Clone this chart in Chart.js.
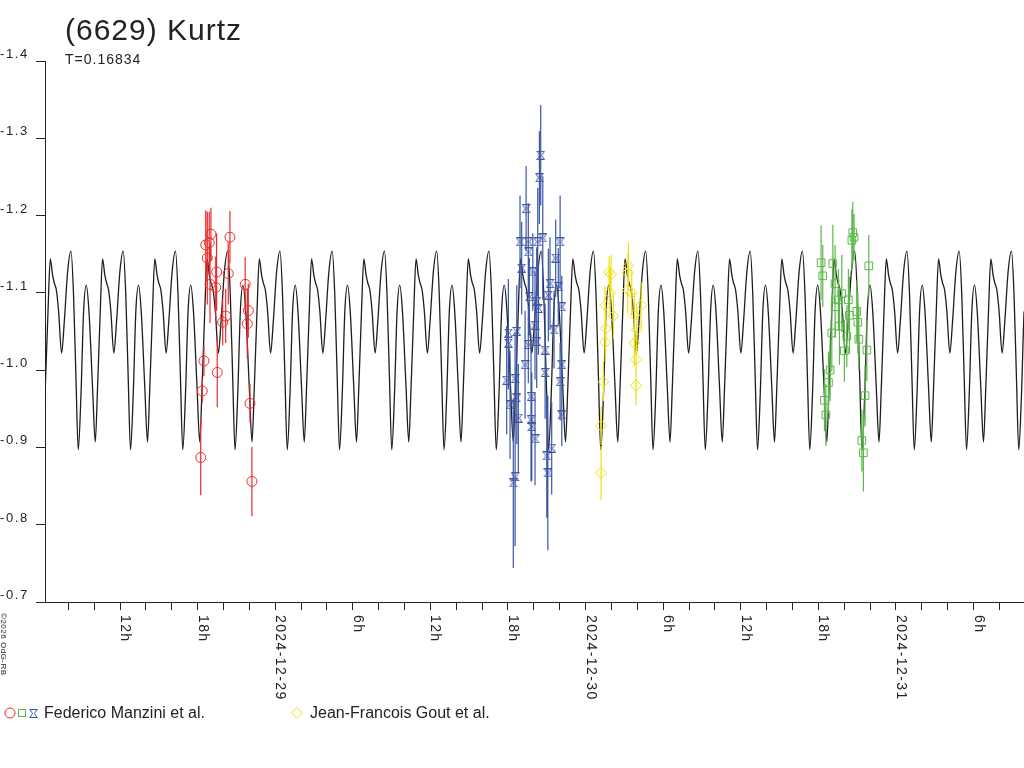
<!DOCTYPE html>
<html>
<head>
<meta charset="utf-8">
<title>(6629) Kurtz</title>
<script src="https://cdn.jsdelivr.net/npm/chart.js@4.4.1/dist/chart.umd.min.js"></script>
<style>
    html, body { margin: 0; padding: 0; background: #fff; overflow: hidden; }
</style>
</head>
<body>
<canvas id="lc" width="1024" height="768"></canvas>
<script>
// x values are hours since 2024-12-29 00:00 UT
const xMin = -17.8;
const xMax = 57.9;
const xTickHours = [-16, -14, -12, -10, -8, -6, -4, -2, 0, 2, 4, 6, 8, 10, 12, 14, 16, 18, 20, 22, 24,
    26, 28, 30, 32, 34, 36, 38, 40, 42, 44, 46, 48, 50, 52, 54, 56];
const xLabelHours = [-12, -6, 0, 6, 12, 18, 24, 30, 36, 42, 48, 54];
const xLabels = ['12h', '18h', '2024-12-29', '6h', '12h', '18h', '2024-12-30', '6h', '12h', '18h', '2024-12-31', '6h'];
const yTicks = [-1.4, -1.3, -1.2, -1.1, -1.0, -0.9, -0.8, -0.7];

// model lightcurve: one period, repeated with T
const period = 0.16834; // days
const epochHour = -17.39;
const modelPhase = [0, 0.044, 0.076, 0.115, 0.159, 0.216, 0.268, 0.331, 0.396, 0.445,
    0.491, 0.535, 0.587, 0.637, 0.688, 0.740, 0.809, 0.860, 0.904, 0.956];
const modelMag = [-1.144, -1.123, -1.113, -1.104, -1.076, -1.022, -1.063, -1.127, -1.154, -1.097,
    -0.990, -0.897, -0.968, -1.076, -1.110, -1.076, -0.977, -0.907, -0.977, -1.076];

// Federico Manzini et al. - session 1 (red)
const redHour = [-5.76, -5.64, -5.51, -5.37, -5.25, -5.10, -4.97, -5.04, -4.60, -4.53,
    -4.48, -4.06, -3.83, -3.63, -3.50, -2.32, -2.16, -2.08, -1.95, -1.80];
const redMag = [-0.887, -0.973, -1.012, -1.162, -1.145, -1.165, -1.176, -1.111, -1.107, -1.127,
    -0.997, -1.062, -1.070, -1.125, -1.172, -1.111, -1.060, -1.077, -0.957, -0.856];
const redErr = [0.049, 0.015, 0.02, 0.045, 0.06, 0.04, 0.034, 0.05, 0.04, 0.05,
    0.045, 0.03, 0.035, 0.04, 0.034, 0.035, 0.045, 0.035, 0.025, 0.045];

// Federico Manzini et al. - session 2 (blue)
const blueHour = [20.53, 20.43, 19.40, 18.93, 19.57, 20.30, 20.69, 22.03, 21.69, 19.57,
    19.92, 19.06, 21.25, 21.89, 19.65, 21.12, 22.16, 20.22, 20.35, 20.09,
    18.68, 18.03, 18.03, 19.57, 20.22, 17.90, 18.55, 20.87, 22.03, 22.16,
    18.68, 19.78, 18.16, 18.80, 19.78, 19.84, 20.09, 22.16, 21.38, 21.00,
    21.08, 18.55, 18.41, 21.56, 20.87, 19.32];
const blueMag = [-1.278, -1.249, -1.209, -1.166, -1.166, -1.166, -1.171, -1.166, -1.145, -1.153,
    -1.127, -1.132, -1.112, -1.108, -1.095, -1.097, -1.082, -1.089, -1.080, -1.058,
    -1.050, -1.048, -1.035, -1.033, -1.037, -0.987, -0.989, -0.997, -0.985, -1.007,
    -0.964, -0.966, -0.955, -0.938, -0.936, -0.927, -0.911, -0.942, -0.899, -0.889,
    -0.867, -0.862, -0.854, -1.052, -1.026, -1.007];
const blueErr = [0.065, 0.06, 0.055, 0.06, 0.05, 0.07, 0.08, 0.06, 0.05, 0.06,
    0.05, 0.06, 0.06, 0.05, 0.05, 0.06, 0.04, 0.07, 0.06, 0.07,
    0.06, 0.07, 0.06, 0.05, 0.06, 0.07, 0.06, 0.06, 0.05, 0.04,
    0.06, 0.08, 0.07, 0.07, 0.08, 0.07, 0.06, 0.04, 0.06, 0.08,
    0.1, 0.09, 0.11, 0.05, 0.06, 0.07];

// Federico Manzini et al. - session 3 (green)
const greenHour = [42.21, 42.34, 43.12, 44.66, 44.59, 44.76, 45.90, 43.29, 43.81, 43.55,
    44.32, 43.29, 44.97, 44.40, 45.05, 43.63, 43.04, 44.20, 45.13, 44.01,
    45.75, 42.91, 42.78, 42.47, 45.61, 42.58, 45.36, 45.48];
const greenMag = [-1.139, -1.122, -1.138, -1.178, -1.168, -1.172, -1.135, -1.112, -1.099, -1.091,
    -1.091, -1.082, -1.076, -1.071, -1.062, -1.057, -1.048, -1.044, -1.040, -1.025,
    -1.026, -1.000, -0.984, -0.961, -0.967, -0.942, -0.909, -0.893];
const greenErr = [0.048, 0.04, 0.05, 0.04, 0.04, 0.03, 0.04, 0.05, 0.05, 0.04,
    0.04, 0.04, 0.04, 0.05, 0.04, 0.05, 0.05, 0.04, 0.04, 0.04,
    0.04, 0.04, 0.04, 0.04, 0.04, 0.04, 0.04, 0.05];

// Jean-Francois Gout et al. (yellow)
const yellowHour = [25.82, 25.97, 27.31, 27.26, 27.26, 27.57, 25.89, 25.51, 26.15, 28.29,
    27.77, 25.56, 25.51, 27.96, 27.77, 27.90, 27.90, 25.38, 25.20, 25.20];
const yellowMag = [-1.127, -1.124, -1.135, -1.126, -1.104, -1.100, -1.100, -1.084, -1.070, -1.084,
    -1.071, -1.054, -1.036, -1.052, -1.035, -1.014, -0.980, -0.985, -0.928, -0.867];
const yellowErr = [0.02, 0.025, 0.03, 0.025, 0.03, 0.03, 0.03, 0.025, 0.03, 0.03,
    0.03, 0.03, 0.025, 0.03, 0.03, 0.03, 0.025, 0.025, 0.025, 0.035];

const RED = '#ee2a2a';
const BLUE = '#3c56a5';
const GREEN = '#5cb84a';
const YELLOW = '#f0e010';
const TEXT = '#222';
const FONT = '"Liberation Sans", Arial, sans-serif';

// build the model points from the one-period profile
let modelPts = [];
const P = period * 24;
for (let k = -1; k <= 20; k++) {
    for (let i = 0; i < modelPhase.length; i++) {
        let h = epochHour + (k + modelPhase[i]) * P;
        if (h > xMin - P && h < xMax + P) {
            modelPts.push({x: h, y: modelMag[i]});
        }
    }
}

function toPoints(hours, mags) {
    return hours.map((h, i) => ({x: h, y: mags[i]}));
}

// vertical error bars as broken line segments
function toBars(hours, mags, errs) {
    let pts = [];
    for (let i = 0; i < hours.length; i++) {
        pts.push({x: hours[i], y: mags[i] - errs[i]});
        pts.push({x: hours[i], y: mags[i] + errs[i]});
        pts.push({x: hours[i], y: null});
    }
    return pts;
}

// the blue marker: a little square with pinched sides
function blueMarker() {
    let c = document.createElement('canvas');
    c.width = 9;
    c.height = 9;
    let g = c.getContext('2d');
    g.strokeStyle = BLUE;
    g.lineWidth = 1;
    g.beginPath();
    g.moveTo(0.5, 0.5); g.lineTo(8.5, 0.5);
    g.moveTo(0.5, 8.5); g.lineTo(8.5, 8.5);
    g.moveTo(1, 0.5); g.lineTo(3.5, 4.5); g.lineTo(1, 8.5);
    g.moveTo(8, 0.5); g.lineTo(5.5, 4.5); g.lineTo(8, 8.5);
    g.stroke();
    return c;
}
const blueImg = blueMarker();

function barSet(hours, mags, errs, color) {
    return {
        type: 'line',
        data: toBars(hours, mags, errs),
        borderColor: color,
        borderWidth: 1.2,
        pointRadius: 0,
        spanGaps: false,
        order: 5
    };
}

function markSet(hours, mags, color, style, radius) {
    return {
        type: 'scatter',
        data: toPoints(hours, mags),
        borderColor: color,
        backgroundColor: 'rgba(0,0,0,0)',
        borderWidth: 1,
        pointStyle: style,
        pointRadius: radius,
        order: 1
    };
}

const textPlugin = {
    id: 'texts',
    afterDraw(chart) {
        const ctx = chart.ctx;
        const xs = chart.scales.x;
        const ys = chart.scales.y;
        ctx.save();
        ctx.fillStyle = TEXT;
        ctx.textBaseline = 'alphabetic';
        ctx.textAlign = 'left';

        // title
        ctx.font = '30px ' + FONT;
        ctx.letterSpacing = '1px';
        ctx.fillText('(6629) Kurtz', 65, 40);
        ctx.font = '14px ' + FONT;
        ctx.letterSpacing = '1px';
        ctx.fillText('T=0.16834', 65, 64);

        // y tick labels sit just above their tick
        ctx.font = '13px ' + FONT;
        ctx.letterSpacing = '1.6px';
        yTicks.forEach(v => {
            ctx.fillText(v.toFixed(1), 0, ys.getPixelForValue(v) - 3);
        });

        // x tick labels, turned to read downwards
        ctx.font = '14px ' + FONT;
        ctx.letterSpacing = '1.4px';
        xLabelHours.forEach((h, i) => {
            ctx.save();
            ctx.translate(xs.getPixelForValue(h) + 1, 615);
            ctx.rotate(Math.PI / 2);
            ctx.fillText(xLabels[i], 0, 0);
            ctx.restore();
        });

        // copyright
        ctx.font = '8px ' + FONT;
        ctx.letterSpacing = '0.5px';
        ctx.save();
        ctx.translate(1, 613);
        ctx.rotate(Math.PI / 2);
        ctx.fillText('\u00a92026 OdG-RB', 0, 0);
        ctx.restore();

        // legend
        ctx.lineWidth = 1;
        ctx.strokeStyle = RED;
        ctx.beginPath();
        ctx.arc(10, 713, 5, 0, Math.PI * 2);
        ctx.stroke();
        ctx.strokeStyle = GREEN;
        ctx.strokeRect(18.5, 709.5, 7, 7);
        ctx.drawImage(blueImg, 29, 709);
        ctx.strokeStyle = YELLOW;
        ctx.beginPath();
        ctx.moveTo(297, 707.5); ctx.lineTo(302.5, 713); ctx.lineTo(297, 718.5); ctx.lineTo(291.5, 713);
        ctx.closePath();
        ctx.stroke();

        ctx.font = '16px ' + FONT;
        ctx.letterSpacing = '0px';
        ctx.fillText('Federico Manzini et al.', 44, 718);
        ctx.fillText('Jean-Francois Gout et al.', 310, 718);
        ctx.restore();
    }
};

const ctx = document.getElementById('lc');
const myChart = new Chart(ctx, {
    data: {
        datasets: [
            markSet(redHour, redMag, RED, 'circle', 5),
            markSet(blueHour, blueMag, BLUE, blueImg, 4.5),
            markSet(greenHour, greenMag, GREEN, 'rect', 5.4),
            markSet(yellowHour, yellowMag, YELLOW, 'rectRot', 5.5),
            barSet(redHour, redMag, redErr, RED),
            barSet(blueHour, blueMag, blueErr, BLUE),
            barSet(greenHour, greenMag, greenErr, GREEN),
            barSet(yellowHour, yellowMag, yellowErr, YELLOW),
            {
                type: 'line',
                data: modelPts,
                borderColor: '#1e1e1e',
                borderWidth: 1.3,
                pointRadius: 0,
                cubicInterpolationMode: 'monotone',
                order: 10
            }
        ]
    },
    plugins: [textPlugin],
    options: {
        responsive: false,
        animation: false,
        events: [],
        layout: {
            autoPadding: false,
            padding: {left: 0, top: 61, right: 0, bottom: 0}
        },
        plugins: {
            legend: {display: false},
            tooltip: {enabled: false},
            title: {display: false}
        },
        scales: {
            x: {
                type: 'linear',
                min: xMin,
                max: xMax,
                afterBuildTicks: s => { s.ticks = xTickHours.map(v => ({value: v})); },
                afterFit: s => { s.height = 166; },
                ticks: {display: false},
                grid: {drawOnChartArea: false, drawTicks: true, tickLength: 8, color: TEXT},
                border: {display: true, color: TEXT, width: 1}
            },
            y: {
                type: 'linear',
                reverse: true,
                min: -1.4,
                max: -0.7,
                afterBuildTicks: s => { s.ticks = yTicks.map(v => ({value: v})); },
                afterFit: s => { s.width = 45; },
                ticks: {display: false},
                grid: {drawOnChartArea: false, drawTicks: true, tickLength: 9, color: TEXT},
                border: {display: true, color: TEXT, width: 1}
            }
        }
    }
});
</script>
</body>
</html>
